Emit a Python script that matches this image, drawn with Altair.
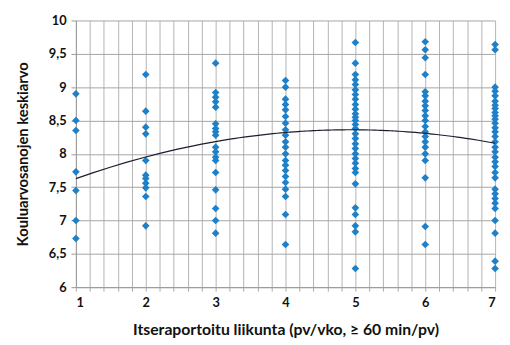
import altair as alt
import pandas as pd

# Self-reported exercise days (x) and school grade averages (y)
col1 = [8.9, 8.5, 8.35, 7.73, 7.45, 7.0, 6.73]
col2 = [9.19, 8.64, 8.4, 8.3, 7.9, 7.68, 7.63, 7.56, 7.49, 7.36, 6.92]
col3 = [9.36, 8.92, 8.85, 8.78, 8.7, 8.45, 8.38, 8.33, 8.28, 8.1, 8.03, 7.95, 7.9,
        7.72, 7.46, 7.18, 7.0, 6.81]
col4 = [9.1, 9.0, 8.82, 8.74, 8.66, 8.56, 8.46, 8.36, 8.28, 8.18, 8.1, 8.0, 7.9,
        7.83, 7.75, 7.66, 7.57, 7.47, 7.36, 7.09, 6.64]
col5 = [9.67, 9.36, 9.19, 9.11, 9.04, 8.96, 8.89, 8.82, 8.74, 8.67, 8.6, 8.55, 8.5,
        8.44, 8.38, 8.3, 8.23, 8.15, 8.08, 8.0, 7.93, 7.86, 7.78, 7.72, 7.55, 7.19,
        7.09, 6.92, 6.83, 6.28]
col6 = [9.68, 9.56, 9.44, 9.19, 8.93, 8.87, 8.79, 8.72, 8.65, 8.57, 8.5, 8.41, 8.33,
        8.26, 8.18, 8.1, 8.0, 7.9, 7.64, 6.91, 6.64]
col7 = [9.64, 9.56, 9.0, 8.94, 8.87, 8.79, 8.73, 8.68, 8.62, 8.57, 8.52, 8.46, 8.39,
        8.33, 8.26, 8.18, 8.1, 8.03, 7.95, 7.88, 7.81, 7.72, 7.64, 7.47, 7.4, 7.33,
        7.26, 7.18, 7.0, 6.81, 6.39, 6.28]
columns = [col1, col2, col3, col4, col5, col6, col7]

# Trend line values read at each integer x
trend_x = [1, 2, 3, 4, 5, 6, 7]
trend_y = [7.63, 7.95, 8.18, 8.32, 8.37, 8.30, 8.16]

x_ticks = [1, 2, 3, 4, 5, 6, 7]
y_ticks = [6, 6.5, 7, 7.5, 8, 8.5, 9, 9.5, 10]

rows = []
for i, col in enumerate(columns):
    for v in col:
        rows.append({"x": x_ticks[i], "y": v})
df = pd.DataFrame(rows)
trend_df = pd.DataFrame({"x": trend_x, "y": trend_y})

grid_x = [round(1 + 0.2 * k, 1) for k in range(31)]

font = "Lato"

x_scale = alt.Scale(domain=[1, 7], nice=False, zero=False)
y_scale = alt.Scale(domain=[6, 10], nice=False, zero=False)

x_axis = alt.Axis(
    values=grid_x,
    labelExpr="abs(datum.value - round(datum.value)) < 0.01 ? format(datum.value, 'd') : ''",
    title="Itseraportoitu  liikunta (pv/vko, ≥ 60 min/pv)",
    titleFont=font, titleFontSize=16, titleFontWeight="bold", titleColor="#111",
    titlePadding=12,
    labelFont=font, labelFontSize=13, labelFontWeight="bold", labelColor="#111",
    labelPadding=6,
    tickSize=4, tickColor="#aaaaaa", domainColor="#999999",
    gridColor="#b4b4b4", gridWidth=1,
)
y_axis = alt.Axis(
    values=y_ticks,
    labelExpr="replace(format(datum.value, '~g'), '.', ',')",
    title="Kouluarvosanojen keskiarvo",
    titleFont=font, titleFontSize=15, titleFontWeight="bold", titleColor="#111",
    titlePadding=18,
    labelFont=font, labelFontSize=13, labelFontWeight="bold", labelColor="#111",
    labelPadding=5,
    tickSize=5, tickColor="#999999", domainColor="#999999",
    gridColor="#a4a4a4", gridWidth=1,
)

points = alt.Chart(df).mark_point(
    shape="diamond", filled=True, size=60, color="#1f80c8", opacity=1
).encode(
    x=alt.X("x:Q", scale=x_scale, axis=x_axis),
    y=alt.Y("y:Q", scale=y_scale, axis=y_axis),
)

trend = alt.Chart(trend_df).transform_regression(
    "x", "y", method="poly", order=2, extent=[1, 7]
).mark_line(color="#1a1f2e", strokeWidth=1.2).encode(
    x=alt.X("x:Q", scale=x_scale, axis=x_axis),
    y=alt.Y("y:Q", scale=y_scale, axis=y_axis),
)

chart = alt.layer(points, trend).properties(
    width=426, height=271,
    autosize=alt.AutoSizeParams(type="none"),
    padding={"left": 69, "top": 10, "right": 7, "bottom": 50},
).configure_view(stroke=None)

chart.save("out.html", embed_options={"renderer": "svg", "actions": False})
